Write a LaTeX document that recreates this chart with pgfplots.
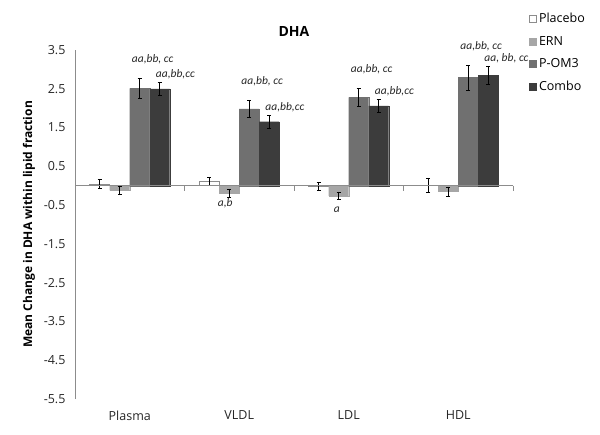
\documentclass[border=0pt]{standalone}
\usepackage{fontspec}
\setmainfont{Open Sans}
\newfontfamily\annfont{Carlito}
\usepackage{pgfplots}
\pgfplotsset{compat=1.18}
\usepackage{pgfplotstable}
\definecolor{ernc}{HTML}{A6A6A6}
\definecolor{pomc}{HTML}{707070}
\definecolor{comc}{HTML}{3C3C3C}
\definecolor{axc}{HTML}{8C8C8C}
\pgfplotstableread{
x y e
0 0.05 0.12
1 0.11 0.10
2 -0.02 0.10
3 0.02 0.18
}\placebo
\pgfplotstableread{
x y e
0 -0.12 0.10
1 -0.20 0.10
2 -0.26 0.10
3 -0.15 0.12
}\ern
\pgfplotstableread{
x y e
0 2.51 0.26
1 1.98 0.22
2 2.28 0.23
3 2.79 0.32
}\pom
\pgfplotstableread{
x y e
0 2.50 0.16
1 1.65 0.17
2 2.06 0.17
3 2.85 0.23
}\combo
\tikzset{ann/.style={anchor=south west, inner sep=0pt, font=\annfont\itshape\fontsize{11.5}{13}\selectfont, text=black!85}}
\begin{document}
\begin{tikzpicture}
\useasboundingbox (-75pt,-35pt) rectangle (525pt,399pt);
\begin{axis}[
  at={(0,0)}, anchor=south west,
  scale only axis, width=438pt, height=349pt,
  xmin=-0.5, xmax=3.5, ymin=-5.5, ymax=3.5,
  ybar=0pt, bar width=20pt,
  axis y line*=left, axis x line*=bottom,
  x axis line style={draw=none},
  y axis line style={draw=axc, thick, -},
  xtick={0,1,2,3}, xticklabels={Plasma,VLDL,LDL,HDL},
  ytick={-5.5,-4.5,-3.5,-2.5,-1.5,-0.5,0.5,1.5,2.5,3.5},
  yticklabel style={/pgf/number format/fixed, /pgf/number format/fixed zerofill, /pgf/number format/precision=1, xshift=-6pt},
  /pgf/number format/assume math mode=true,
  major tick length=0pt,
  tick label style={font=\fontsize{12.5}{14}\selectfont, text=black!85},
  xticklabel style={yshift=-8pt},
  ylabel={\bfseries Mean Change in DHA within lipid fraction},
  ylabel style={font=\fontsize{12}{14}\selectfont, yshift=2pt},
  title={\bfseries DHA},
  title style={font=\fontsize{14}{16}\selectfont, yshift=4pt},
  legend style={at={(1.035,1.112)}, anchor=north west, draw=none, fill=none,
    font=\fontsize{12.5}{14}\selectfont, row sep=8pt, legend cell align=left, inner sep=0pt,
    nodes={inner xsep=3pt}},
  legend image code/.code={\draw[#1] (-3pt,-3.5pt) rectangle (4pt,3.5pt);},
  error bars/error bar style={black, line width=0.5pt},
  error bars/error mark options={rotate=90, mark size=2pt, black, line width=0.5pt},
  clip=false,
]
\addplot[draw=axc, fill=white, line width=0.5pt, error bars/.cd, y dir=both, y explicit] table[x=x,y=y,y error=e]{\placebo};
\addplot[draw=ernc, fill=ernc, error bars/.cd, y dir=both, y explicit] table[x=x,y=y,y error=e]{\ern};
\addplot[draw=pomc, fill=pomc, error bars/.cd, y dir=both, y explicit] table[x=x,y=y,y error=e]{\pom};
\addplot[draw=comc, fill=comc, error bars/.cd, y dir=both, y explicit] table[x=x,y=y,y error=e]{\combo};
\legend{Placebo,ERN,P-OM3,Combo}
\draw[axc, thick] (axis cs:-0.5,0) -- (axis cs:3.5,0);
\draw[axc, thick] (axis cs:0.5,0) -- ([yshift=-5pt]axis cs:0.5,0);
\draw[axc, thick] (axis cs:1.5,0) -- ([yshift=-5pt]axis cs:1.5,0);
\draw[axc, thick] (axis cs:2.5,0) -- ([yshift=-5pt]axis cs:2.5,0);
\draw[axc, thick] (axis cs:3.5,0) -- ([yshift=-5pt]axis cs:3.5,0);
\coordinate (p0) at (axis cs:0,2.77);
\coordinate (p1) at (axis cs:1,2.20);
\coordinate (p2) at (axis cs:2,2.51);
\coordinate (p3) at (axis cs:3,3.11);
\coordinate (c0) at (axis cs:0,2.66);
\coordinate (c1) at (axis cs:1,1.81);
\coordinate (c2) at (axis cs:2,2.23);
\coordinate (c3) at (axis cs:3,3.08);
\coordinate (e1) at (axis cs:1,-0.45);
\coordinate (e2) at (axis cs:2,-0.63);
\end{axis}
\node[ann] at ([xshift=2pt,yshift=14pt]p0) {aa,bb, cc};
\node[ann] at ([xshift=2pt,yshift=14pt]p1) {aa,bb, cc};
\node[ann] at ([xshift=2pt,yshift=14pt]p2) {aa,bb, cc};
\node[ann] at ([xshift=2pt,yshift=14pt]p3) {aa,bb, cc};
\node[ann] at ([xshift=26pt,yshift=3pt]c0) {aa,bb,cc};
\node[ann] at ([xshift=26pt,yshift=3pt]c1) {aa,bb,cc};
\node[ann] at ([xshift=26pt,yshift=3pt]c2) {aa,bb,cc};
\node[ann] at ([xshift=26pt,yshift=3pt]c3) {aa, bb, cc};
\node[inner sep=0pt, font=\annfont\itshape\fontsize{11.5}{13}\selectfont, text=black!85] at ([xshift=-14pt]e1) {a,b};
\node[inner sep=0pt, font=\annfont\itshape\fontsize{11.5}{13}\selectfont, text=black!85] at ([xshift=-12pt]e2) {a};
\end{tikzpicture}
\end{document}
